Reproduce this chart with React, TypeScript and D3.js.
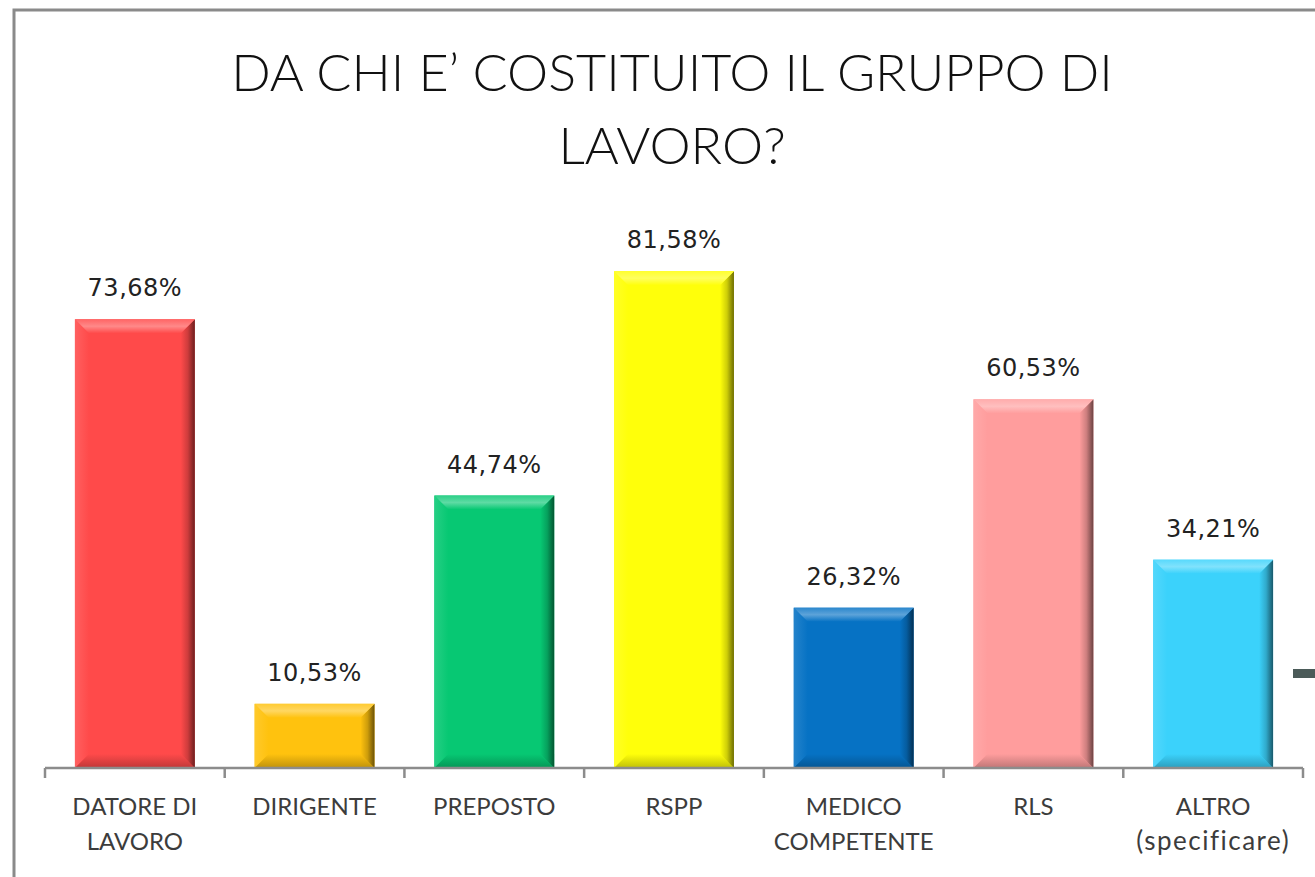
import React, { useEffect, useRef } from "react";
import * as d3 from "d3";

const categories = [
  ["DATORE DI", "LAVORO"],
  ["DIRIGENTE"],
  ["PREPOSTO"],
  ["RSPP"],
  ["MEDICO", "COMPETENTE"],
  ["RLS"],
  ["ALTRO", "(specificare)"],
];
const values = [73.68, 10.53, 44.74, 81.58, 26.32, 60.53, 34.21];
const colors = ["#ff4a4a", "#ffc20e", "#07c873", "#ffff0a", "#0672c4", "#ff9d9d", "#3bd2fb"];
const titleLines = ["DA CHI E\u2019 COSTITUITO IL GRUPPO DI", "LAVORO?"];

const W = 1315;
const H = 877;

function App() {
  const svgRef = useRef<SVGSVGElement>(null);

  useEffect(() => {
    const svg = d3.select(svgRef.current);
    svg.selectAll("*").remove();

    const axisY = 768;
    const x = d3
      .scaleBand<number>()
      .domain(d3.range(values.length))
      .range([45, 1303])
      .paddingInner(0.333)
      .paddingOuter(0.1665);
    const y = d3.scaleLinear().domain([0, 100]).range([axisY, 159]);

    svg.append("rect").attr("width", W).attr("height", H).attr("fill", "#fff");

    // frame
    svg
      .append("path")
      .attr("d", `M14,${H} L14,10 L${W},10`)
      .attr("fill", "none")
      .attr("stroke", "#8a8a8a")
      .attr("stroke-width", 3);

    // title
    svg
      .append("g")
      .selectAll("text")
      .data(titleLines)
      .enter()
      .append("text")
      .attr("x", 672)
      .attr("y", (d, i) => 91 + i * 73)
      .attr("text-anchor", "middle")
      .style("font-family", "Lato, 'Open Sans', sans-serif")
      .style("font-size", "52px")
      .style("font-weight", 300)
      .attr("fill", "#111")
      .text((d) => d);

    const defs = svg.append("defs");
    const grad = (id: string, x1: number, y1: number, x2: number, y2: number, stops: [number, string][]) => {
      const g = defs
        .append("linearGradient")
        .attr("id", id)
        .attr("x1", x1)
        .attr("y1", y1)
        .attr("x2", x2)
        .attr("y2", y2);
      stops.forEach(([o, c]) => g.append("stop").attr("offset", o).attr("stop-color", c));
    };

    const bars = svg.append("g");
    values.forEach((v, i) => {
      const x0 = x(i)!;
      const w = x.bandwidth();
      const y0 = y(v);
      const h = axisY - y0;
      const x1 = x0 + w;
      const b = Math.min(14, h / 3);
      const c = d3.color(colors[i])!;
      const light = d3.interpolateRgb(colors[i], "#fff")(0.35);
      const dark = c.darker(2.4).formatHex();
      const mid = c.darker(0.6).formatHex();

      grad(`t${i}`, 0, 0, 0, 1, [[0, d3.interpolateRgb(colors[i], "#fff")(0.15)], [0.5, light], [1, colors[i]]]);
      grad(`r${i}`, 0, 0, 1, 0, [[0, colors[i]], [0.5, mid], [1, dark]]);
      grad(`b${i}`, 0, 0, 0, 1, [[0, colors[i]], [1, c.darker(0.8).formatHex()]]);
      grad(`l${i}`, 0, 0, 1, 0, [[0, d3.interpolateRgb(colors[i], "#fff")(0.12)], [1, colors[i]]]);

      const g = bars.append("g");
      g.append("rect").attr("x", x0).attr("y", y0).attr("width", w).attr("height", h).attr("fill", colors[i]);
      g.append("path")
        .attr("d", `M${x0},${y0} L${x0 + b},${y0 + b} L${x0 + b},${axisY - b} L${x0},${axisY} Z`)
        .attr("fill", `url(#l${i})`);
      g.append("path")
        .attr("d", `M${x0},${axisY} L${x0 + b},${axisY - b} L${x1 - b},${axisY - b} L${x1},${axisY} Z`)
        .attr("fill", `url(#b${i})`);
      g.append("path")
        .attr("d", `M${x1},${y0} L${x1 - b},${y0 + b} L${x1 - b},${axisY - b} L${x1},${axisY} Z`)
        .attr("fill", `url(#r${i})`);
      g.append("path")
        .attr("d", `M${x0},${y0} L${x1},${y0} L${x1 - b},${y0 + b} L${x0 + b},${y0 + b} Z`)
        .attr("fill", `url(#t${i})`);

      g.append("text")
        .attr("x", x0 + w / 2)
        .attr("y", y0 - 23)
        .attr("text-anchor", "middle")
        .style("font-family", "'DejaVu Sans', Verdana, sans-serif")
        .style("font-size", "24px")
        .style("letter-spacing", "0.5px")
        .attr("fill", "#222")
        .text(v.toFixed(2).replace(".", ",") + "%");
    });

    // axis
    const ax = svg.append("g").attr("stroke", "#8c8c8c").attr("stroke-width", 2.5);
    ax.append("line").attr("x1", 45).attr("x2", 1303).attr("y1", axisY).attr("y2", axisY);
    d3.range(values.length + 1).forEach((i) => {
      const tx = 45 + i * x.step();
      ax.append("line").attr("x1", tx).attr("x2", tx).attr("y1", axisY).attr("y2", axisY + 10);
    });

    // category labels
    categories.forEach((lines, i) => {
      svg
        .append("text")
        .attr("text-anchor", "middle")
        .style("font-family", "Lato, 'Open Sans', sans-serif")
        .style("font-size", "24px")
        .attr("fill", "#3c3c3c")
        .selectAll("tspan")
        .data(lines)
        .enter()
        .append("tspan")
        .attr("x", x(i)! + x.bandwidth() / 2)
        .attr("y", (d, j) => 815 + j * 35)
        .style("letter-spacing", (d) => (d === d.toUpperCase() ? "0px" : "1.5px"))
        .style("font-size", (d) => (d === d.toUpperCase() ? "24px" : "26px"))
        .text((d) => d);
    });

    // fragment at right edge
    svg.append("rect").attr("x", 1293).attr("y", 669).attr("width", 22).attr("height", 9).attr("fill", "#4b5b59");
  }, []);

  return (
    <svg
      ref={svgRef}
      width={W}
      height={H}
      style={{ position: "absolute", left: 0, top: 0 }}
    ></svg>
  );
}

export default App;
